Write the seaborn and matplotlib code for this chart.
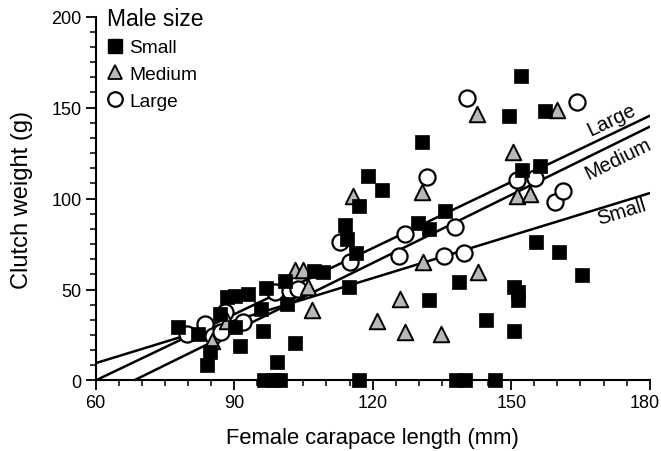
import numpy as np
import pandas as pd
import seaborn as sns
import matplotlib
matplotlib.use("Agg")
import matplotlib.pyplot as plt
from matplotlib.ticker import MultipleLocator
from matplotlib.lines import Line2D
from matplotlib.transforms import ScaledTranslation

# ---- data ----
small_x = [77.9, 82.2, 84.7, 84.2, 86.9, 88.4, 90.2, 93.1, 90.2, 91.2, 95.9, 96.2,
           97.0, 101.0, 101.4, 103.2, 99.2, 107.2, 109.3, 114.8, 114.0, 114.4, 116.3,
           117.1, 118.9, 122.1, 129.9, 132.3, 135.7, 130.7, 132.1, 138.6, 144.5, 150.5,
           151.4, 151.4, 150.7, 149.6, 152.1, 157.3, 152.3, 156.3, 155.4, 160.3, 165.4,
           96.5, 98.5, 100.0, 117.1, 138.0, 140.0, 146.5]
small_y = [29.6, 25.5, 15.5, 8.7, 36.5, 45.7, 46.6, 47.5, 29.2, 19.1, 39.3, 27.4,
           50.7, 54.8, 42.0, 20.6, 10.0, 60.3, 59.5, 51.2, 85.4, 77.7, 70.0,
           95.7, 112.2, 104.8, 86.5, 83.2, 93.3, 130.9, 44.4, 54.3, 33.4, 51.2,
           48.5, 44.4, 27.4, 145.2, 167.5, 148.3, 115.8, 117.7, 76.3, 70.8, 58.0,
           0, 0, 0, 0, 0, 0, 0]

medium_x = [85.2, 88.4, 103.2, 105.0, 105.9, 106.8, 115.8, 120.9, 126.0, 126.9,
            130.7, 130.8, 134.8, 142.8, 142.6, 150.3, 151.3, 154.1, 159.9]
medium_y = [21.9, 32.9, 60.5, 60.5, 51.5, 39.0, 101.5, 32.9, 44.8, 26.8,
            103.7, 64.9, 25.5, 59.8, 146.4, 125.4, 101.2, 102.5, 148.8]

large_x = [79.7, 83.6, 85.5, 87.1, 88.1, 92.0, 98.8, 102.1, 103.9, 112.9, 115.0,
           125.6, 126.9, 131.7, 135.5, 139.7, 137.9, 140.4, 151.3, 155.2, 159.4,
           161.2, 164.3]
large_y = [25.5, 31.0, 24.6, 26.5, 37.5, 32.0, 48.5, 49.3, 50.3, 75.9, 65.3,
           68.2, 80.5, 111.6, 68.5, 70.0, 84.2, 155.0, 110.3, 111.1, 98.2,
           104.3, 152.9]

# regression lines (slope, intercept)
line_names = ["Large", "Medium", "Small"]
line_slope = [1.2125, 1.249, 0.779]
line_intercept = [-72.75, -85.31, -37.24]
line_label_x = [173.0, 171.8, 173.3]

x_ticks = [60, 90, 120, 150, 180]
y_ticks = [0, 50, 100, 150, 200]

# ---- plotting ----
sns.set_theme(style="ticks")
plt.rcParams["font.family"] = ["Liberation Sans", "DejaVu Sans"]
for k in ["text.color", "axes.labelcolor", "xtick.color", "ytick.color",
          "axes.edgecolor", "xtick.labelcolor", "ytick.labelcolor"]:
    plt.rcParams[k] = "black"

fig = plt.figure(figsize=(6.61, 4.52), dpi=100)
ax = fig.add_axes([0.1445, 0.156, 0.8385, 0.805])

xs = np.linspace(60, 180, 200)
lines_df = pd.concat([
    pd.DataFrame({"x": xs, "y": s * xs + b, "group": n})
    for n, s, b in zip(line_names, line_slope, line_intercept)
])
sns.lineplot(data=lines_df, x="x", y="y", units="group", estimator=None,
             color="black", linewidth=1.8, ax=ax, legend=False)

df_l = pd.DataFrame({"x": large_x, "y": large_y})
df_m = pd.DataFrame({"x": medium_x, "y": medium_y})
df_s = pd.DataFrame({"x": small_x, "y": small_y})

sns.scatterplot(data=df_l, x="x", y="y", marker="o", s=135, color="white",
                edgecolor="black", linewidth=1.6, ax=ax, clip_on=False, zorder=3)
sns.scatterplot(data=df_m, x="x", y="y", marker="^", s=125, color="#b8b8b8",
                edgecolor="black", linewidth=1.4, ax=ax, clip_on=False, zorder=4)
sns.scatterplot(data=df_s, x="x", y="y", marker="s", s=115, color="black",
                edgecolor="black", linewidth=0.5, ax=ax, clip_on=False, zorder=5)

ax.set_xlim(60, 180)
ax.set_ylim(0, 200)
ax.set_xticks(x_ticks)
ax.set_yticks(y_ticks)
ax.xaxis.set_minor_locator(MultipleLocator(5))
ax.yaxis.set_minor_locator(MultipleLocator(50 / 6))
ax.tick_params(which="major", length=7, width=1.3, labelsize=13, pad=3)
ax.tick_params(which="minor", length=4.5, width=1.1)
for side in ["top", "right"]:
    ax.spines[side].set_visible(False)
for side in ["left", "bottom"]:
    ax.spines[side].set_linewidth(1.5)

# keep the last x tick label inside the figure, as in the reference
last = ax.get_xticklabels()[-1]
last.set_transform(last.get_transform() + ScaledTranslation(-0.05, 0, fig.dpi_scale_trans))

ax.set_xlabel("Female carapace length (mm)", fontsize=15.8, labelpad=11)
ax.set_ylabel("Clutch weight (g)", fontsize=17, labelpad=13)

# line labels, rotated along lines
def screen_angle(slope):
    p1 = ax.transData.transform((100, slope * 100))
    p2 = ax.transData.transform((150, slope * 150))
    return np.degrees(np.arctan2(p2[1] - p1[1], p2[0] - p1[0]))

offsets = [13, -14, -9]  # pixel offset perpendicular to the line
for n, s, b, lx, off in zip(line_names, line_slope, line_intercept, line_label_x, offsets):
    ang = screen_angle(s)
    ax.annotate(n, xy=(lx, s * lx + b),
                xytext=(-np.sin(np.radians(ang)) * off, np.cos(np.radians(ang)) * off),
                textcoords="offset pixels", rotation=ang, rotation_mode="anchor",
                ha="center", va="center", fontsize=14.5)

handles = [
    Line2D([], [], marker="s", linestyle="none", markersize=10, markerfacecolor="black",
           markeredgecolor="black"),
    Line2D([], [], marker="^", linestyle="none", markersize=10, markerfacecolor="#b8b8b8",
           markeredgecolor="black", markeredgewidth=1.3),
    Line2D([], [], marker="o", linestyle="none", markersize=10.5, markerfacecolor="white",
           markeredgecolor="black", markeredgewidth=1.6),
]
leg = ax.legend(handles, ["Small", "Medium", "Large"], title="Male size",
                loc="upper left", bbox_to_anchor=(0.021, 1.027), frameon=False,
                fontsize=13.8, title_fontsize=16.5, handlelength=0.8,
                handletextpad=0.35, labelspacing=0.48, borderaxespad=0,
                borderpad=0, alignment="left")

fig.savefig("out.png", dpi=100)
